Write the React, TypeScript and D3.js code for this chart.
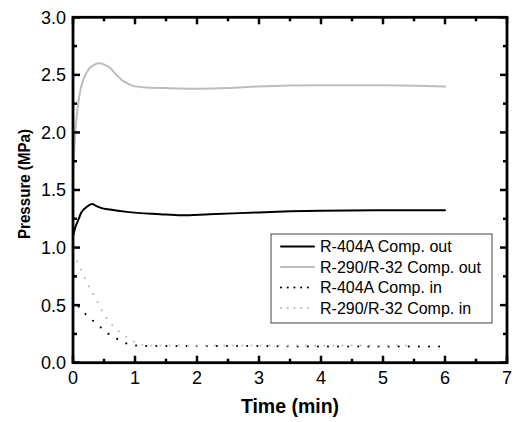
import React from "react";
import * as d3 from "d3";

const outBlackT = [0, 0.04, 0.085, 0.13, 0.19, 0.25, 0.31, 0.38, 0.45, 0.6, 0.87, 1.4, 1.75, 2.2, 3.0, 3.5, 4.0, 5.0, 6.0];
const outBlackV = [1.1, 1.18, 1.24, 1.3, 1.34, 1.365, 1.378, 1.36, 1.345, 1.33, 1.31, 1.29, 1.28, 1.29, 1.305, 1.315, 1.32, 1.325, 1.325];

const outGrayT = [0, 0.03, 0.07, 0.1, 0.16, 0.2, 0.27, 0.35, 0.42, 0.5, 0.6, 0.7, 0.8, 0.9, 1.0, 1.2, 1.5, 2.0, 2.5, 3.0, 4.0, 5.0, 6.0];
const outGrayV = [1.65, 1.95, 2.19, 2.31, 2.45, 2.5, 2.56, 2.59, 2.6, 2.59, 2.56, 2.5, 2.45, 2.42, 2.4, 2.39, 2.385, 2.38, 2.385, 2.4, 2.41, 2.41, 2.4];

const inBlackT = [0, 0.13, 0.27, 0.42, 0.56, 0.7, 0.85, 1.0, 1.2, 1.5, 2, 3, 4, 5, 6];
const inBlackV = [0.56, 0.46, 0.39, 0.32, 0.255, 0.21, 0.17, 0.15, 0.145, 0.145, 0.145, 0.145, 0.14, 0.14, 0.14];

const inGrayT = [0, 0.07, 0.14, 0.21, 0.29, 0.37, 0.45, 0.54, 0.66, 0.78, 0.94, 1.08, 1.3, 1.6, 2, 3, 4, 5, 5.45];
const inGrayV = [0.95, 0.877, 0.796, 0.71, 0.63, 0.553, 0.47, 0.39, 0.31, 0.255, 0.197, 0.16, 0.15, 0.15, 0.15, 0.15, 0.15, 0.15, 0.15];

const legendLabels = ["R-404A Comp. out", "R-290/R-32 Comp. out", "R-404A Comp. in", "R-290/R-32 Comp. in"];
const xTicks = [0, 1, 2, 3, 4, 5, 6, 7];
const yTicks = [0, 0.5, 1.0, 1.5, 2.0, 2.5, 3.0];
const xTitle = "Time (min)";
const yTitle = "Pressure (MPa)";

const FONT = "'Liberation Sans', Arial, sans-serif";

export default function App() {
  const x = d3.scaleLinear().domain([0, 7]).range([73, 507]);
  const y = d3.scaleLinear().domain([0, 3]).range([362.7, 17.3]);
  const line = (ts: number[], vs: number[]) =>
    d3
      .line<number>()
      .x((_, i) => x(ts[i]))
      .y((v) => y(v))
      .curve(d3.curveMonotoneX)(vs) || "";

  const series = [
    { t: outBlackT, v: outBlackV, color: "#000", w: 2, dash: undefined, ldash: undefined },
    { t: outGrayT, v: outGrayV, color: "#bdbdbd", w: 2, dash: undefined, ldash: undefined },
    { t: inBlackT, v: inBlackV, color: "#000", w: 2, dash: "0.1 10", ldash: "0.1 6.6" },
    { t: inGrayT, v: inGrayV, color: "#bcbcbc", w: 2, dash: "0.1 9", ldash: "0.1 6.6" },
  ];

  const xMinor = d3.range(0.5, 7, 1);
  const yMinor = d3.range(0.25, 3, 0.5);
  const [x0, x1] = x.range();
  const [y0, y1] = y.range();

  return (
    <svg width={516} height={422} style={{ position: "absolute", left: 0, top: 0, background: "#fff" }}>
      {series.map((s, i) => (
        <path key={i} d={line(s.t, s.v)} fill="none" stroke={s.color} strokeWidth={s.w} strokeDasharray={s.dash} strokeLinecap="round" />
      ))}
      {/* legend */}
      <rect x={271} y={234} width={221} height={89} fill="#fff" stroke="#444" strokeWidth={1} />
      {legendLabels.map((lab, i) => {
        const cy = 246.5 + i * 20.5;
        const s = series[i];
        return (
          <g key={lab}>
            <line x1={281} x2={314} y1={cy} y2={cy} stroke={s.color} strokeWidth={s.w} strokeDasharray={s.ldash} strokeLinecap="round" />
            <text x={320} y={cy} dy="0.36em" fontFamily={FONT} fontSize={16} fill="#000">{lab}</text>
          </g>
        );
      })}
      {/* axes frame */}
      <rect x={x0} y={y1} width={x1 - x0} height={y0 - y1} fill="none" stroke="#000" strokeWidth={2.8} />
      {xTicks.map((t) => (
        <g key={"xt" + t}>
          <line x1={x(t)} x2={x(t)} y1={y0} y2={y0 - 7} stroke="#000" strokeWidth={2.5} />
          <line x1={x(t)} x2={x(t)} y1={y1} y2={y1 + 7} stroke="#000" strokeWidth={2.5} />
          <text x={x(t)} y={384} textAnchor="middle" fontFamily={FONT} fontSize={18} fill="#000">{t}</text>
        </g>
      ))}
      {xMinor.map((t) => (
        <g key={"xm" + t}>
          <line x1={x(t)} x2={x(t)} y1={y0} y2={y0 - 4} stroke="#000" strokeWidth={2.5} />
          <line x1={x(t)} x2={x(t)} y1={y1} y2={y1 + 4} stroke="#000" strokeWidth={2.5} />
        </g>
      ))}
      {yTicks.map((t) => (
        <g key={"yt" + t}>
          <line x1={x0} x2={x0 + 7} y1={y(t)} y2={y(t)} stroke="#000" strokeWidth={2.5} />
          <line x1={x1} x2={x1 - 7} y1={y(t)} y2={y(t)} stroke="#000" strokeWidth={2.5} />
          <text x={66} y={y(t)} dy="0.36em" textAnchor="end" fontFamily={FONT} fontSize={18} fill="#000">{t.toFixed(1)}</text>
        </g>
      ))}
      {yMinor.map((t) => (
        <g key={"ym" + t}>
          <line x1={x0} x2={x0 + 4} y1={y(t)} y2={y(t)} stroke="#000" strokeWidth={2.5} />
          <line x1={x1} x2={x1 - 4} y1={y(t)} y2={y(t)} stroke="#000" strokeWidth={2.5} />
        </g>
      ))}
      <text x={290} y={413} textAnchor="middle" fontFamily={FONT} fontWeight="bold" fontSize={19.5} fill="#000">{xTitle}</text>
      <text transform="translate(30,184) rotate(-90)" textAnchor="middle" fontFamily={FONT} fontWeight="bold" fontSize={16.5} fill="#000" textLength={110} lengthAdjust="spacingAndGlyphs">{yTitle}</text>
    </svg>
  );
}
